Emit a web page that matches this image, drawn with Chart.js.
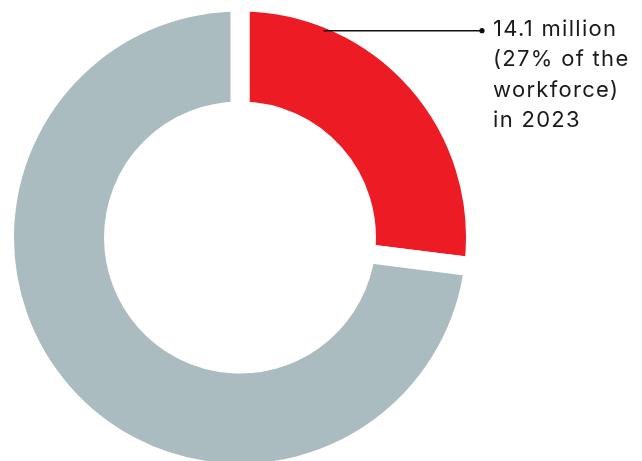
<!DOCTYPE html>
<html>
<head>
<meta charset="utf-8">
<script src="https://cdn.jsdelivr.net/npm/chart.js@4"></script>
<style>
  html, body { margin: 0; padding: 0; background: #ffffff; }
  #wrap { width: 642px; height: 461px; overflow: hidden; }
</style>
</head>
<body>
<div id="wrap"><canvas id="c" width="642" height="461"></canvas></div>
<script>
// ---- data ----
const categories = ['Share of workforce (14.1 million)', 'Rest of workforce'];
const shareValues = [27, 73];
const sliceColors = ['#ED1C24', '#ABBCC0'];
const calloutLines = ['14.1 million', '(27% of the', 'workforce)', 'in 2023'];

const GAP = 19;

const calloutPlugin = {
  id: 'callout',
  afterDatasetsDraw(chart) {
    const arc = chart.getDatasetMeta(0).data[0];
    if (!arc) return;
    const ctx = chart.ctx;
    const cx = arc.x, cy = arc.y;
    const R = arc.outerRadius - GAP / 2;
    const y = cy - R * 0.915;
    const x0 = cx + R * 0.37;
    const xDot = cx + R + 16;
    const xText = cx + R + 27;
    ctx.save();
    ctx.strokeStyle = '#111111';
    ctx.lineWidth = 1.4;
    ctx.beginPath();
    ctx.moveTo(x0, y);
    ctx.lineTo(xDot, y);
    ctx.stroke();
    ctx.fillStyle = '#111111';
    ctx.beginPath();
    ctx.arc(xDot, y, 2.6, 0, Math.PI * 2);
    ctx.fill();
    ctx.font = '400 22px Inter, "Open Sans", sans-serif';
    if ('letterSpacing' in ctx) ctx.letterSpacing = '1.3px';
    ctx.textAlign = 'left';
    ctx.textBaseline = 'alphabetic';
    ctx.fillStyle = '#1a1a1a';
    calloutLines.forEach((t, i) => {
      ctx.fillText(t, xText, y + 5 + i * 30.5);
    });
    ctx.restore();
  }
};

new Chart(document.getElementById('c'), {
  type: 'doughnut',
  data: {
    labels: categories,
    datasets: [{
      data: shareValues,
      backgroundColor: sliceColors,
      borderColor: '#ffffff',
      borderWidth: GAP,
      hoverOffset: 0,
      clip: false
    }]
  },
  options: {
    responsive: false,
    devicePixelRatio: 1,
    animation: false,
    radius: 235.5,
    cutout: '53.7%',
    layout: { padding: { left: 0, right: 162, top: 14, bottom: 0 } },
    plugins: {
      legend: { display: false },
      tooltip: { enabled: false }
    }
  },
  plugins: [calloutPlugin]
});
</script>
</body>
</html>
